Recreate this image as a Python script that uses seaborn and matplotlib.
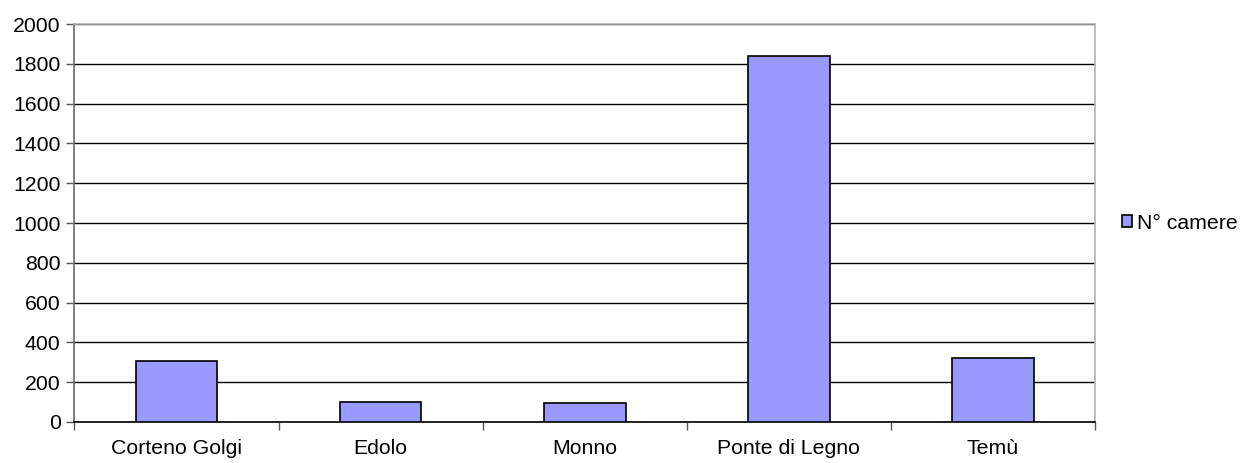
import seaborn as sns
import matplotlib.pyplot as plt
import pandas as pd

comuni = ['Corteno Golgi', 'Edolo', 'Monno', 'Ponte di Legno', 'Temù']
camere = [307, 102, 95, 1840, 323]
y_ticks = [0, 200, 400, 600, 800, 1000, 1200, 1400, 1600, 1800, 2000]

df = pd.DataFrame({'Comune': comuni, 'N° camere': camere})

sns.set_theme(style='white')
plt.rcParams['font.family'] = ['Liberation Sans', 'DejaVu Sans']
plt.rcParams['text.color'] = 'black'

fig = plt.figure(figsize=(12.45, 4.63), dpi=100)
ax = fig.add_axes([0.0598, 0.0886, 0.8197, 0.8594])

sns.barplot(data=df, x='Comune', y='N° camere', color='#9999FF', width=0.4,
            edgecolor='black', linewidth=1.2, saturation=1, label='N° camere', ax=ax, zorder=3)

ax.set_ylim(0, 2000)
ax.set_xlim(-0.5, len(comuni) - 0.5)
ax.set_yticks(y_ticks)
ax.yaxis.grid(True, color='black', linewidth=1)
ax.set_axisbelow(True)
ax.set_xlabel('')
ax.set_ylabel('')

# tacche tra le categorie
ax.set_xticks([i - 0.5 for i in range(len(comuni) + 1)], minor=True)
ax.tick_params(axis='x', which='major', length=0, labelsize=15.3, pad=12, colors='black')
ax.tick_params(axis='x', which='minor', length=6, width=1, color='#555555', direction='out', bottom=True)
ax.tick_params(axis='y', length=6, width=1, color='#555555', direction='out', left=True,
               labelsize=15.3, pad=4, labelcolor='black')

ax.spines['left'].set_color('#666666')
ax.spines['bottom'].set_color('black')
ax.spines['top'].set_color('#b3b3b3')
ax.spines['right'].set_color('#b3b3b3')
for s in ax.spines.values():
    s.set_linewidth(1.2)

leg = ax.legend(loc='center left', bbox_to_anchor=(0.901, 0.518), bbox_transform=fig.transFigure,
                frameon=False, fontsize=15.3, handlelength=0.5, handleheight=0.5, handletextpad=0.2,
                borderpad=0, borderaxespad=0)
for t in leg.get_texts():
    t.set_color('black')

plt.savefig('out.png', dpi=100)
